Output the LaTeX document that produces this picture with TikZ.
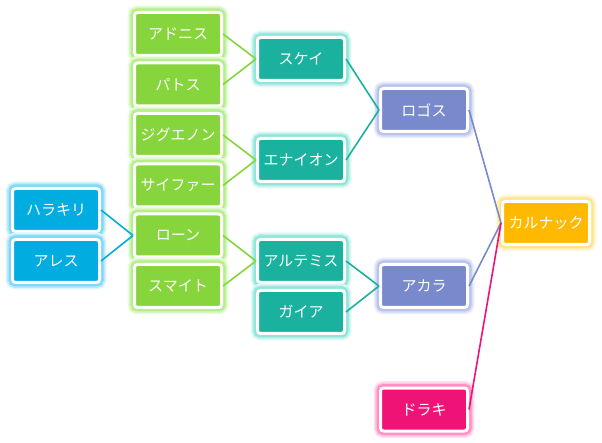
\documentclass[tikz,border=0pt]{standalone}
\usepackage{fontspec}
\newfontfamily\jp{Noto Sans CJK JP}
\definecolor{gfill}{RGB}{134,213,60}
\definecolor{gglow}{RGB}{181,238,138}
\definecolor{bfill}{RGB}{0,172,224}
\definecolor{bglow}{RGB}{128,216,248}
\definecolor{tfill}{RGB}{26,178,158}
\definecolor{tglow}{RGB}{144,230,218}
\definecolor{pfill}{RGB}{120,137,204}
\definecolor{pglow}{RGB}{184,196,238}
\definecolor{ofill}{RGB}{255,185,0}
\definecolor{oglow}{RGB}{255,229,144}
\definecolor{kfill}{RGB}{239,18,119}
\definecolor{kglow}{RGB}{255,144,196}
\tikzset{
  box/.style n args={2}{fill=#1, draw=white, line width=3pt, rounded corners=3pt,
    preaction={draw=#2!25!white, line width=14pt},
    preaction={draw=#2!55!white, line width=11pt},
    preaction={draw=#2, line width=8pt},
    minimum width=87pt, minimum height=43pt, inner sep=0pt,
    text=white, font=\jp\fontsize{15}{17}\selectfont},
  gbox/.style={box={gfill}{gglow}},
  bbox/.style={box={bfill}{bglow}},
  tbox/.style={box={tfill}{tglow}},
  pbox/.style={box={pfill}{pglow}},
  obox/.style={box={ofill}{oglow}},
  kbox/.style={box={kfill}{kglow}},
  link/.style={line width=1.6pt, draw=#1}
}
\begin{document}
\begin{tikzpicture}[x=1pt,y=-1pt]
\useasboundingbox (0,0) rectangle (602,443);
\node[gbox] (adonis) at (178,34) {アドニス};
\node[gbox] (patos) at (178,84.5) {パトス};
\node[gbox] (jig) at (178,135) {ジグエノン};
\node[gbox] (sai) at (178,185.5) {サイファー};
\node[gbox] (ron) at (178,235.5) {ローン};
\node[gbox] (sma) at (178,286) {スマイト};
\node[bbox] (hara) at (56,210) {ハラキリ};
\node[bbox] (ares) at (56,261) {アレス};
\node[tbox] (skei) at (301,59) {スケイ};
\node[tbox] (enai) at (301,160) {エナイオン};
\node[tbox] (arte) at (301,261) {アルテミス};
\node[tbox] (gaia) at (301,312) {ガイア};
\node[pbox] (logos) at (424,110) {ロゴス};
\node[pbox] (akara) at (424,286) {アカラ};
\node[obox] (karn) at (546,223) {カルナック};
\node[kbox] (draki) at (424,409.5) {ドラキ};
\draw[link=gfill] (adonis.east) -- (skei.west);
\draw[link=gfill] (patos.east) -- (skei.west);
\draw[link=gfill] (jig.east) -- (enai.west);
\draw[link=gfill] (sai.east) -- (enai.west);
\draw[link=gfill] (ron.east) -- (arte.west);
\draw[link=gfill] (sma.east) -- (arte.west);
\draw[link=bfill] (hara.east) -- (ron.west);
\draw[link=bfill] (ares.east) -- (ron.west);
\draw[link=tfill] (skei.east) -- (logos.west);
\draw[link=tfill] (enai.east) -- (logos.west);
\draw[link=tfill] (arte.east) -- (akara.west);
\draw[link=tfill] (gaia.east) -- (akara.west);
\draw[link=pfill] (logos.east) -- (karn.west);
\draw[link=pfill] (akara.east) -- (karn.west);
\draw[link=kfill] (draki.east) -- (karn.west);
\end{tikzpicture}
\end{document}
